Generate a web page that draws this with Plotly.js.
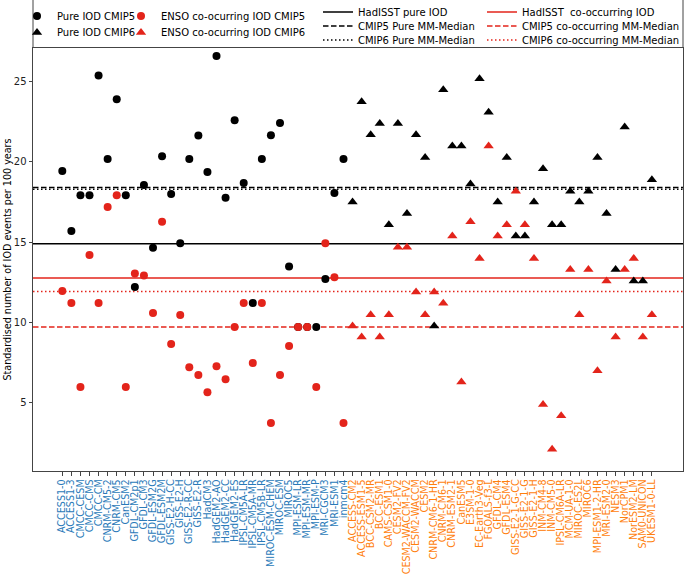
<!DOCTYPE html>
<html><head><meta charset="utf-8">
<script src="https://cdn.plot.ly/plotly-3.0.1.min.js"></script>
<style>html,body{margin:0;padding:0;background:#fff}</style>
</head><body><div id="chart" style="width:685px;height:575px"></div>
<script>
// ---------- data ----------
const cmip5Models = ["ACCESS1-0","ACCESS1-3","CMCC-CESM","CMCC-CMS","CMCC-CM","CNRM-CM5-2","CNRM-CM5","CanESM2","GFDL-CM2p1","GFDL-CM3","GFDL-ESM2G","GFDL-ESM2M","GISS-E2-H-CC","GISS-E2-H","GISS-E2-R-CC","GISS-E2-R","HadCM3","HadGEM2-AO","HadGEM2-CC","HadGEM2-ES","IPSL-CM5A-LR","IPSL-CM5A-MR","IPSL-CM5B-LR","MIROC-ESM-CHEM","MIROC-ESM","MIROC5","MPI-ESM-LR","MPI-ESM-MR","MPI-ESM-P","MRI-CGCM3","MRI-ESM1","inmcm4"];
const cmip6Models = ["ACCESS-CM2","ACCESS-ESM1-5","BCC-CSM2-MR","BCC-ESM1","CAMS-CSM1-0","CESM2-FV2","CESM2-WACCM-FV2","CESM2-WACCM","CESM2","CNRM-CM6-1-HR","CNRM-CM6-1","CNRM-ESM2-1","CanESM5","E3SM-1-0","EC-Earth3-Veg","FGOALS-f3-L","GFDL-CM4","GFDL-ESM4","GISS-E2-1-G-CC","GISS-E2-1-G","GISS-E2-1-H","INM-CM4-8","INM-CM5-0","IPSL-CM6A-LR","MCM-UA-1-0","MIROC-ES2L","MIROC6","MPI-ESM1-2-HR","MRI-ESM2-0","NESM3","NorCPM1","NorESM2-LM","SAM0-UNICON","UKESM1-0-LL"];

const pureCmip5 = [19.43,15.69,17.92,17.92,25.39,20.18,23.90,17.92,12.20,18.56,14.66,20.35,18.00,14.94,20.18,21.65,19.37,26.60,17.77,22.60,18.68,11.21,20.18,21.67,22.42,13.49,9.71,9.71,9.71,12.70,18.06,20.18];
const coCmip5   = [11.95,11.21,5.97,14.20,11.21,17.19,17.92,5.97,13.04,12.93,10.58,16.28,8.65,10.46,7.20,6.72,5.64,7.26,6.45,9.71,11.21,7.47,11.21,3.73,6.72,8.53,9.71,9.71,5.97,14.94,12.81,3.73];
const pureCmip6 = [17.50,23.75,21.70,22.40,16.09,22.40,16.79,21.70,20.28,9.77,24.50,20.99,20.99,18.62,25.19,23.09,17.50,20.28,15.38,15.38,17.50,19.58,16.09,16.09,18.18,17.50,18.18,20.28,16.79,13.29,22.17,12.58,12.58,18.89];
const coCmip6   = [9.77,9.09,10.48,9.09,10.48,14.68,14.68,11.89,10.48,11.89,11.19,15.38,6.28,16.28,13.99,20.99,15.38,16.09,18.17,16.09,13.99,4.89,2.09,4.19,13.29,10.48,13.29,6.99,12.58,9.09,13.29,13.99,9.09,10.48];

const hadisstPure = 14.9;
const cmip5PureMedian = 18.4;
const cmip6PureMedian = 18.3;
const hadisstCo = 12.76;
const cmip5CoMedian = 9.71;
const cmip6CoMedian = 11.92;

// ---------- layout helpers ----------
const W = 685, H = 575;
const M = {l: 33, r: 2, t: 48, b: 104};
const plotW = W - M.l - M.r, plotH = H - M.t - M.b;
const px2x = p => (p - M.l) / plotW;
const px2y = p => (H - M.b - p) / plotH;
const xRange = [-3.23, 68.43];
const yRange = [0.74, 27.1];

const FONT = "DejaVu Sans";
const RED = "#e3241b";
const BLUE = "#2a7ab9";
const ORANGE = "#ff7f0e";
const FRAME = "#444";

const x5 = cmip5Models.map((_, i) => i);
const x6 = cmip6Models.map((_, i) => cmip5Models.length + i);
const allModels = cmip5Models.concat(cmip6Models);
const tickvals = allModels.map((_, i) => i);
const ticktext = allModels.map((m, i) =>
  '<span style="color:' + (i < cmip5Models.length ? BLUE : ORANGE) + '">' + m + '</span>');

function hline(name, v, color, dash, leg) {
  return {type: 'scatter', mode: 'lines', name: name, x: [xRange[0], xRange[1]], y: [v, v],
          line: {color: color, width: 1.5, dash: dash}, legend: leg, hoverinfo: 'skip'};
}

const traces = [
  hline('HadISST pure IOD', hadisstPure, '#000', 'solid', 'legend5'),
  hline('CMIP5 Pure MM-Median', cmip5PureMedian, '#000', '5.5px,2.5px', 'legend6'),
  hline('CMIP6 Pure MM-Median', cmip6PureMedian, '#000', '1.5px,2.5px', 'legend7'),
  hline('HadISST\u00a0 co-occurring IOD', hadisstCo, RED, 'solid', 'legend8'),
  hline('CMIP5 co-occurring MM-Median', cmip5CoMedian, RED, '5.5px,2.5px', 'legend9'),
  hline('CMIP6 co-occurring MM-Median', cmip6CoMedian, RED, '1.5px,2.5px', 'legend10'),
  {type: 'scatter', mode: 'markers', name: 'Pure IOD CMIP5', x: x5, y: pureCmip5,
   marker: {symbol: 'circle', size: 8, color: '#000'}, legend: 'legend'},
  {type: 'scatter', mode: 'markers', name: 'ENSO co-ocurring IOD CMIP5', x: x5, y: coCmip5,
   marker: {symbol: 'circle', size: 8, color: RED}, legend: 'legend3'},
  {type: 'scatter', mode: 'markers', name: 'Pure IOD CMIP6', x: x6, y: pureCmip6,
   marker: {symbol: 'triangle-up', size: 9, color: '#000'}, legend: 'legend2'},
  {type: 'scatter', mode: 'markers', name: 'ENSO co-ocurring IOD CMIP6', x: x6, y: coCmip6,
   marker: {symbol: 'triangle-up', size: 9, color: RED}, legend: 'legend4'}
];

function leg(xPx, yPx) {
  return {x: px2x(xPx), y: px2y(yPx), xanchor: 'left', yanchor: 'middle',
          xref: 'paper', yref: 'paper', bgcolor: 'rgba(0,0,0,0)', borderwidth: 0,
          font: {family: FONT, size: 10, color: '#000'}, itemwidth: 30};
}

const layout = {
  width: W, height: H, margin: Object.assign({autoexpand: false}, M),
  paper_bgcolor: '#fff', plot_bgcolor: '#fff',
  font: {family: FONT, size: 10, color: '#000'},
  showlegend: true,
  legend: leg(17, 16), legend2: leg(17, 32.5),
  legend3: leg(121, 16), legend4: leg(121, 32.5),
  legend5: leg(318, 12), legend6: leg(318, 26), legend7: leg(318, 40),
  legend8: leg(482, 12), legend9: leg(482, 26), legend10: leg(482, 40),
  xaxis: {range: xRange, tickmode: 'array', tickvals: tickvals, ticktext: ticktext,
          tickangle: -90, ticks: 'outside', ticklen: 3.5, tickcolor: FRAME, tickwidth: 1,
          showline: true, mirror: true, linecolor: FRAME, linewidth: 1,
          showgrid: false, zeroline: false, automargin: false,
          tickfont: {family: FONT, size: 9.6}},
  yaxis: {range: yRange, tickmode: 'array', tickvals: [5, 10, 15, 20, 25],
          ticks: 'outside', ticklen: 3.5, tickcolor: FRAME, tickwidth: 1,
          showline: true, mirror: true, linecolor: FRAME, linewidth: 1,
          showgrid: false, zeroline: false, automargin: false,
          tickfont: {family: FONT, size: 10, color: '#222'},
          title: {text: 'Standardised number of IOD events per 100 years',
                  font: {family: FONT, size: 9.6, color: '#000'}, standoff: 0}},
  shapes: [
    {type: 'line', xref: 'paper', yref: 'paper', x0: 0, x1: 0, y0: 1, y1: px2y(0), line: {color: FRAME, width: 1}},
    {type: 'line', xref: 'paper', yref: 'paper', x0: 1, x1: 1, y0: 1, y1: px2y(0), line: {color: FRAME, width: 1}}
  ]
};

Plotly.newPlot('chart', traces, layout, {displayModeBar: false, staticPlot: true});
</script>
</body></html>
